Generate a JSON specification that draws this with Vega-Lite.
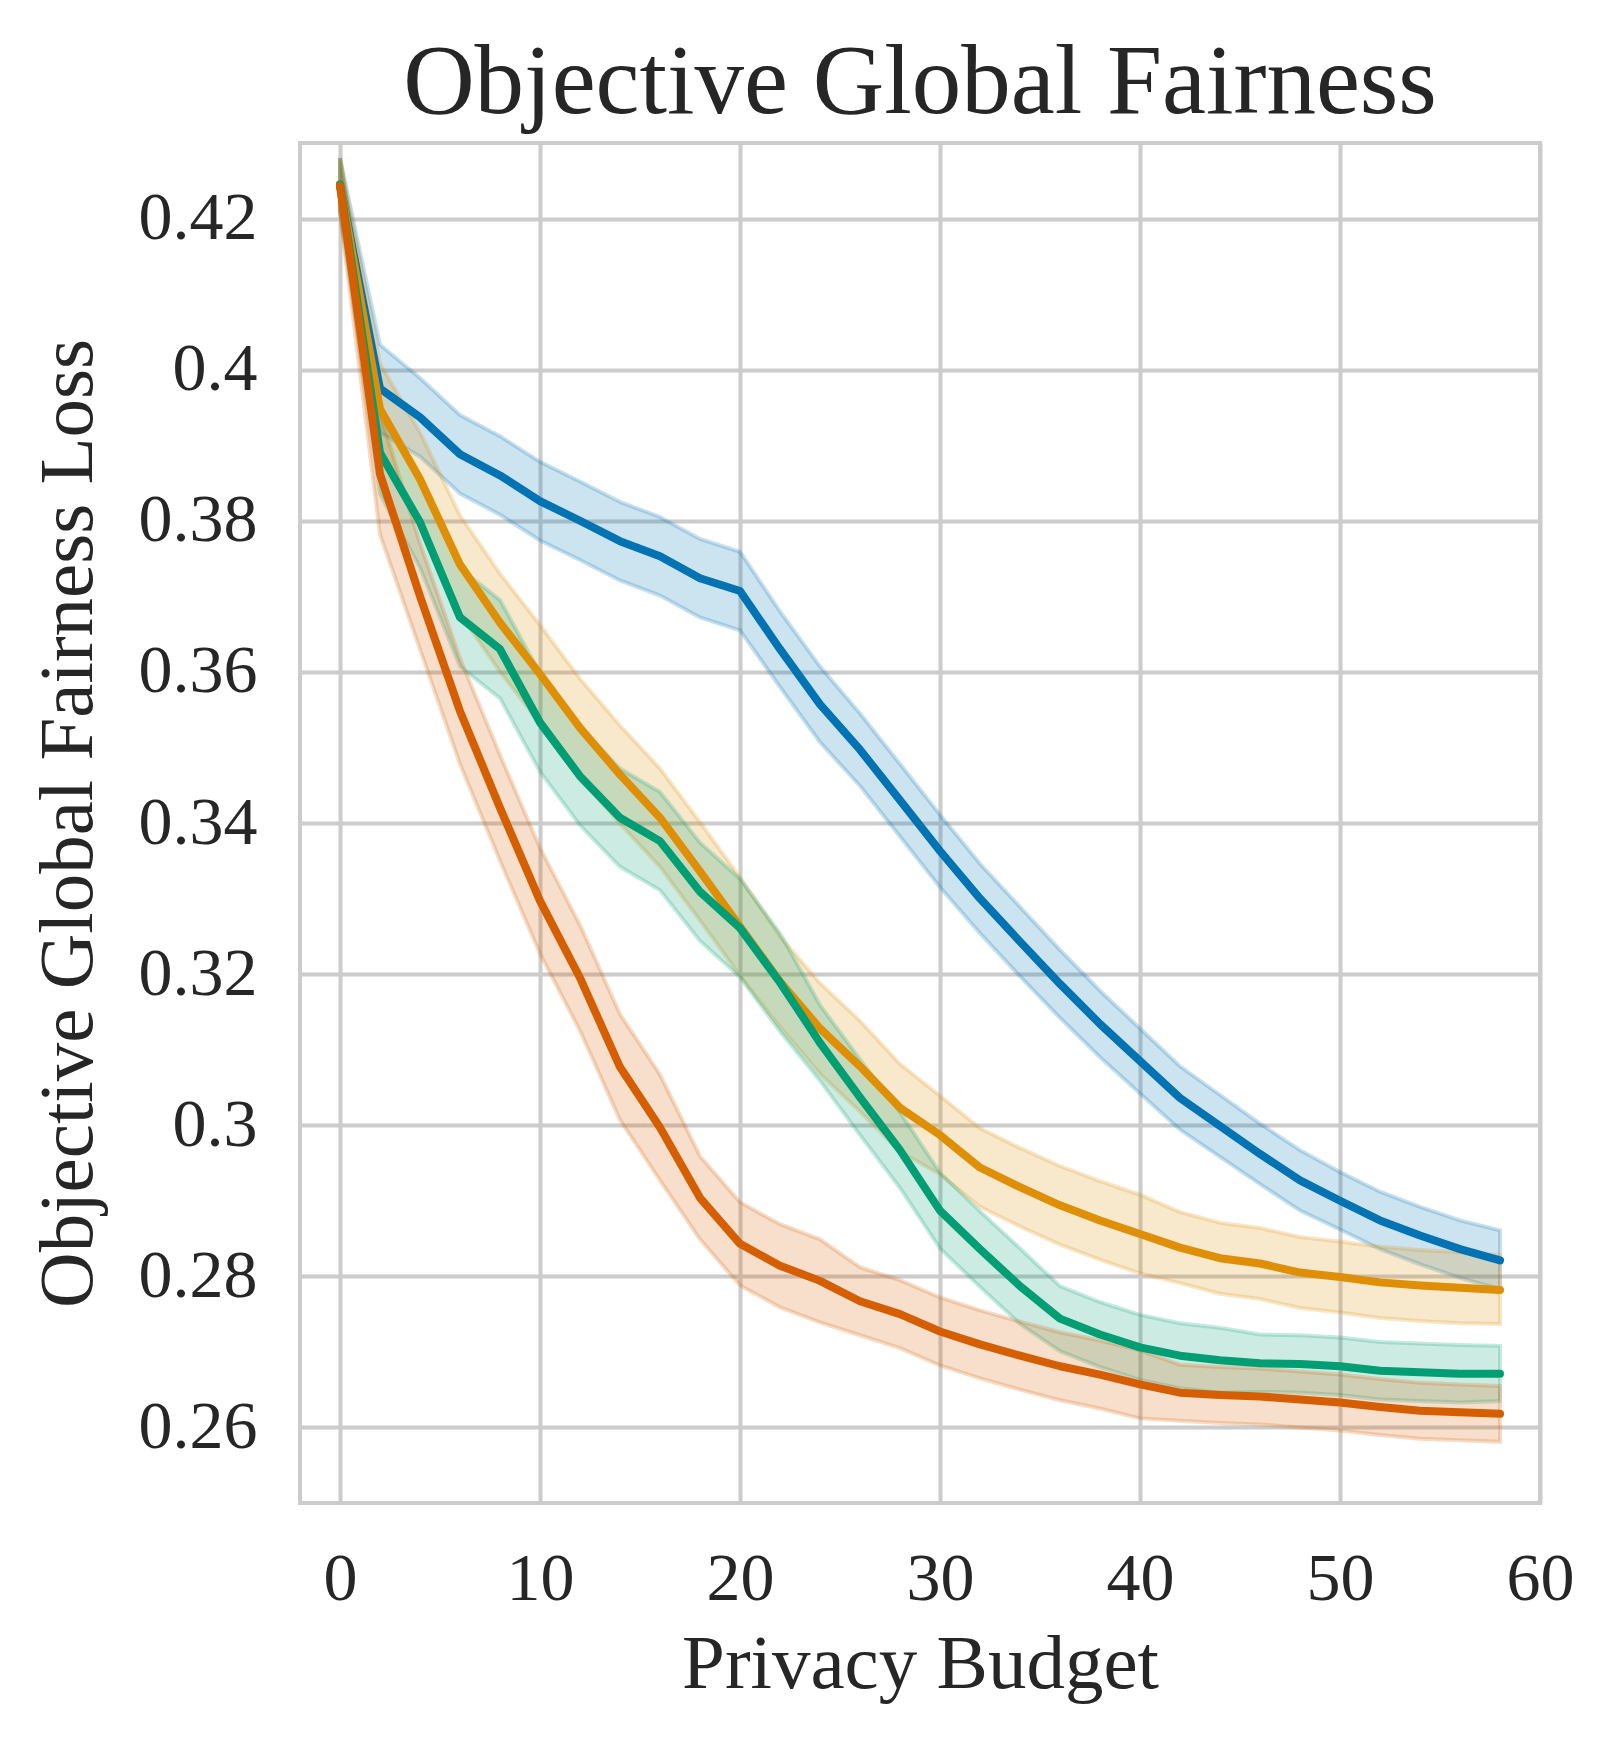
{
  "$schema": "https://vega.github.io/schema/vega-lite/v6.json",
  "autosize": "none",
  "padding": {"left": 300, "top": 143, "right": 76, "bottom": 246},
  "width": 1240,
  "height": 1360,
  "title": {"text": "Objective Global Fairness", "offset": 9},
  "data": {
    "values": [
      {"series": "A", "budget": 0, "loss": 0.4245, "lo": 0.4210, "hi": 0.4280},
      {"series": "A", "budget": 2, "loss": 0.3975, "lo": 0.3917, "hi": 0.4033},
      {"series": "A", "budget": 4, "loss": 0.3937, "lo": 0.3885, "hi": 0.3989},
      {"series": "A", "budget": 6, "loss": 0.3888, "lo": 0.3836, "hi": 0.3940},
      {"series": "A", "budget": 8, "loss": 0.3860, "lo": 0.3808, "hi": 0.3912},
      {"series": "A", "budget": 10, "loss": 0.3826, "lo": 0.3774, "hi": 0.3878},
      {"series": "A", "budget": 12, "loss": 0.3800, "lo": 0.3748, "hi": 0.3852},
      {"series": "A", "budget": 14, "loss": 0.3773, "lo": 0.3721, "hi": 0.3825},
      {"series": "A", "budget": 16, "loss": 0.3753, "lo": 0.3701, "hi": 0.3805},
      {"series": "A", "budget": 18, "loss": 0.3724, "lo": 0.3672, "hi": 0.3776},
      {"series": "A", "budget": 20, "loss": 0.3707, "lo": 0.3655, "hi": 0.3759},
      {"series": "A", "budget": 22, "loss": 0.3630, "lo": 0.3580, "hi": 0.3680},
      {"series": "A", "budget": 24, "loss": 0.3557, "lo": 0.3507, "hi": 0.3607},
      {"series": "A", "budget": 26, "loss": 0.3497, "lo": 0.3449, "hi": 0.3545},
      {"series": "A", "budget": 28, "loss": 0.3430, "lo": 0.3382, "hi": 0.3478},
      {"series": "A", "budget": 30, "loss": 0.3363, "lo": 0.3315, "hi": 0.3411},
      {"series": "A", "budget": 32, "loss": 0.3300, "lo": 0.3254, "hi": 0.3346},
      {"series": "A", "budget": 34, "loss": 0.3243, "lo": 0.3197, "hi": 0.3289},
      {"series": "A", "budget": 36, "loss": 0.3187, "lo": 0.3142, "hi": 0.3232},
      {"series": "A", "budget": 38, "loss": 0.3134, "lo": 0.3090, "hi": 0.3178},
      {"series": "A", "budget": 40, "loss": 0.3085, "lo": 0.3042, "hi": 0.3128},
      {"series": "A", "budget": 42, "loss": 0.3036, "lo": 0.2994, "hi": 0.3078},
      {"series": "A", "budget": 44, "loss": 0.2999, "lo": 0.2958, "hi": 0.3040},
      {"series": "A", "budget": 46, "loss": 0.2962, "lo": 0.2922, "hi": 0.3002},
      {"series": "A", "budget": 48, "loss": 0.2927, "lo": 0.2887, "hi": 0.2967},
      {"series": "A", "budget": 50, "loss": 0.2900, "lo": 0.2862, "hi": 0.2938},
      {"series": "A", "budget": 52, "loss": 0.2874, "lo": 0.2836, "hi": 0.2912},
      {"series": "A", "budget": 54, "loss": 0.2854, "lo": 0.2816, "hi": 0.2892},
      {"series": "A", "budget": 56, "loss": 0.2836, "lo": 0.2798, "hi": 0.2874},
      {"series": "A", "budget": 58, "loss": 0.2821, "lo": 0.2783, "hi": 0.2861},

      {"series": "B", "budget": 0, "loss": 0.4245, "lo": 0.4210, "hi": 0.4280},
      {"series": "B", "budget": 2, "loss": 0.3948, "lo": 0.3888, "hi": 0.4008},
      {"series": "B", "budget": 4, "loss": 0.3855, "lo": 0.3793, "hi": 0.3917},
      {"series": "B", "budget": 6, "loss": 0.3742, "lo": 0.3677, "hi": 0.3807},
      {"series": "B", "budget": 8, "loss": 0.3665, "lo": 0.3600, "hi": 0.3730},
      {"series": "B", "budget": 10, "loss": 0.3597, "lo": 0.3532, "hi": 0.3662},
      {"series": "B", "budget": 12, "loss": 0.3526, "lo": 0.3461, "hi": 0.3591},
      {"series": "B", "budget": 14, "loss": 0.3464, "lo": 0.3399, "hi": 0.3529},
      {"series": "B", "budget": 16, "loss": 0.3407, "lo": 0.3342, "hi": 0.3472},
      {"series": "B", "budget": 18, "loss": 0.3336, "lo": 0.3271, "hi": 0.3401},
      {"series": "B", "budget": 20, "loss": 0.3263, "lo": 0.3198, "hi": 0.3328},
      {"series": "B", "budget": 22, "loss": 0.3190, "lo": 0.3130, "hi": 0.3250},
      {"series": "B", "budget": 24, "loss": 0.3128, "lo": 0.3068, "hi": 0.3188},
      {"series": "B", "budget": 26, "loss": 0.3078, "lo": 0.3018, "hi": 0.3138},
      {"series": "B", "budget": 28, "loss": 0.3023, "lo": 0.2965, "hi": 0.3081},
      {"series": "B", "budget": 30, "loss": 0.2987, "lo": 0.2935, "hi": 0.3039},
      {"series": "B", "budget": 32, "loss": 0.2944, "lo": 0.2892, "hi": 0.2996},
      {"series": "B", "budget": 34, "loss": 0.2918, "lo": 0.2866, "hi": 0.2970},
      {"series": "B", "budget": 36, "loss": 0.2894, "lo": 0.2842, "hi": 0.2946},
      {"series": "B", "budget": 38, "loss": 0.2874, "lo": 0.2822, "hi": 0.2926},
      {"series": "B", "budget": 40, "loss": 0.2856, "lo": 0.2804, "hi": 0.2908},
      {"series": "B", "budget": 42, "loss": 0.2838, "lo": 0.2791, "hi": 0.2885},
      {"series": "B", "budget": 44, "loss": 0.2824, "lo": 0.2777, "hi": 0.2871},
      {"series": "B", "budget": 46, "loss": 0.2817, "lo": 0.2770, "hi": 0.2864},
      {"series": "B", "budget": 48, "loss": 0.2805, "lo": 0.2758, "hi": 0.2852},
      {"series": "B", "budget": 50, "loss": 0.2799, "lo": 0.2752, "hi": 0.2846},
      {"series": "B", "budget": 52, "loss": 0.2792, "lo": 0.2745, "hi": 0.2839},
      {"series": "B", "budget": 54, "loss": 0.2788, "lo": 0.2741, "hi": 0.2835},
      {"series": "B", "budget": 56, "loss": 0.2785, "lo": 0.2738, "hi": 0.2832},
      {"series": "B", "budget": 58, "loss": 0.2782, "lo": 0.2737, "hi": 0.2828},

      {"series": "C", "budget": 0, "loss": 0.4245, "lo": 0.4210, "hi": 0.4280},
      {"series": "C", "budget": 2, "loss": 0.3890, "lo": 0.3835, "hi": 0.3945},
      {"series": "C", "budget": 4, "loss": 0.3798, "lo": 0.3738, "hi": 0.3858},
      {"series": "C", "budget": 6, "loss": 0.3672, "lo": 0.3607, "hi": 0.3737},
      {"series": "C", "budget": 8, "loss": 0.3630, "lo": 0.3565, "hi": 0.3695},
      {"series": "C", "budget": 10, "loss": 0.3533, "lo": 0.3468, "hi": 0.3598},
      {"series": "C", "budget": 12, "loss": 0.3462, "lo": 0.3397, "hi": 0.3527},
      {"series": "C", "budget": 14, "loss": 0.3407, "lo": 0.3342, "hi": 0.3472},
      {"series": "C", "budget": 16, "loss": 0.3376, "lo": 0.3311, "hi": 0.3441},
      {"series": "C", "budget": 18, "loss": 0.3309, "lo": 0.3244, "hi": 0.3374},
      {"series": "C", "budget": 20, "loss": 0.3261, "lo": 0.3196, "hi": 0.3326},
      {"series": "C", "budget": 22, "loss": 0.3189, "lo": 0.3124, "hi": 0.3254},
      {"series": "C", "budget": 24, "loss": 0.3109, "lo": 0.3059, "hi": 0.3159},
      {"series": "C", "budget": 26, "loss": 0.3037, "lo": 0.2987, "hi": 0.3087},
      {"series": "C", "budget": 28, "loss": 0.2967, "lo": 0.2917, "hi": 0.3017},
      {"series": "C", "budget": 30, "loss": 0.2887, "lo": 0.2837, "hi": 0.2937},
      {"series": "C", "budget": 32, "loss": 0.2836, "lo": 0.2786, "hi": 0.2886},
      {"series": "C", "budget": 34, "loss": 0.2787, "lo": 0.2737, "hi": 0.2837},
      {"series": "C", "budget": 36, "loss": 0.2744, "lo": 0.2701, "hi": 0.2787},
      {"series": "C", "budget": 38, "loss": 0.2723, "lo": 0.2680, "hi": 0.2766},
      {"series": "C", "budget": 40, "loss": 0.2706, "lo": 0.2663, "hi": 0.2749},
      {"series": "C", "budget": 42, "loss": 0.2695, "lo": 0.2652, "hi": 0.2738},
      {"series": "C", "budget": 44, "loss": 0.2689, "lo": 0.2646, "hi": 0.2732},
      {"series": "C", "budget": 46, "loss": 0.2685, "lo": 0.2647, "hi": 0.2723},
      {"series": "C", "budget": 48, "loss": 0.2684, "lo": 0.2646, "hi": 0.2722},
      {"series": "C", "budget": 50, "loss": 0.2681, "lo": 0.2643, "hi": 0.2719},
      {"series": "C", "budget": 52, "loss": 0.2675, "lo": 0.2637, "hi": 0.2713},
      {"series": "C", "budget": 54, "loss": 0.2673, "lo": 0.2635, "hi": 0.2711},
      {"series": "C", "budget": 56, "loss": 0.2671, "lo": 0.2633, "hi": 0.2709},
      {"series": "C", "budget": 58, "loss": 0.2671, "lo": 0.2635, "hi": 0.2708},

      {"series": "D", "budget": 0, "loss": 0.4243, "lo": 0.4208, "hi": 0.4278},
      {"series": "D", "budget": 2, "loss": 0.3862, "lo": 0.3782, "hi": 0.3942},
      {"series": "D", "budget": 4, "loss": 0.3700, "lo": 0.3630, "hi": 0.3770},
      {"series": "D", "budget": 6, "loss": 0.3548, "lo": 0.3478, "hi": 0.3618},
      {"series": "D", "budget": 8, "loss": 0.3420, "lo": 0.3350, "hi": 0.3490},
      {"series": "D", "budget": 10, "loss": 0.3297, "lo": 0.3227, "hi": 0.3367},
      {"series": "D", "budget": 12, "loss": 0.3195, "lo": 0.3125, "hi": 0.3265},
      {"series": "D", "budget": 14, "loss": 0.3077, "lo": 0.3007, "hi": 0.3147},
      {"series": "D", "budget": 16, "loss": 0.2997, "lo": 0.2927, "hi": 0.3067},
      {"series": "D", "budget": 18, "loss": 0.2904, "lo": 0.2849, "hi": 0.2959},
      {"series": "D", "budget": 20, "loss": 0.2843, "lo": 0.2788, "hi": 0.2898},
      {"series": "D", "budget": 22, "loss": 0.2814, "lo": 0.2759, "hi": 0.2869},
      {"series": "D", "budget": 24, "loss": 0.2794, "lo": 0.2739, "hi": 0.2849},
      {"series": "D", "budget": 26, "loss": 0.2767, "lo": 0.2722, "hi": 0.2812},
      {"series": "D", "budget": 28, "loss": 0.2750, "lo": 0.2705, "hi": 0.2795},
      {"series": "D", "budget": 30, "loss": 0.2727, "lo": 0.2682, "hi": 0.2772},
      {"series": "D", "budget": 32, "loss": 0.2710, "lo": 0.2665, "hi": 0.2755},
      {"series": "D", "budget": 34, "loss": 0.2695, "lo": 0.2650, "hi": 0.2740},
      {"series": "D", "budget": 36, "loss": 0.2681, "lo": 0.2636, "hi": 0.2726},
      {"series": "D", "budget": 38, "loss": 0.2670, "lo": 0.2625, "hi": 0.2715},
      {"series": "D", "budget": 40, "loss": 0.2657, "lo": 0.2612, "hi": 0.2702},
      {"series": "D", "budget": 42, "loss": 0.2646, "lo": 0.2609, "hi": 0.2683},
      {"series": "D", "budget": 44, "loss": 0.2643, "lo": 0.2606, "hi": 0.2680},
      {"series": "D", "budget": 46, "loss": 0.2641, "lo": 0.2604, "hi": 0.2678},
      {"series": "D", "budget": 48, "loss": 0.2637, "lo": 0.2600, "hi": 0.2674},
      {"series": "D", "budget": 50, "loss": 0.2633, "lo": 0.2596, "hi": 0.2670},
      {"series": "D", "budget": 52, "loss": 0.2627, "lo": 0.2590, "hi": 0.2664},
      {"series": "D", "budget": 54, "loss": 0.2622, "lo": 0.2585, "hi": 0.2659},
      {"series": "D", "budget": 56, "loss": 0.2620, "lo": 0.2583, "hi": 0.2657},
      {"series": "D", "budget": 58, "loss": 0.2618, "lo": 0.2581, "hi": 0.2655}
    ]
  },
  "layer": [
    {
      "mark": {"type": "area", "fillOpacity": 0.2, "strokeOpacity": 0.22, "strokeWidth": 4},
      "encoding": {
        "x": {"field": "budget", "type": "quantitative"},
        "y": {"field": "lo", "type": "quantitative"},
        "y2": {"field": "hi"},
        "color": {
          "field": "series",
          "type": "nominal",
          "legend": null,
          "scale": {"domain": ["A", "B", "C", "D"], "range": ["#0173b2", "#de8f05", "#029e73", "#d55e00"]}
        },
        "stroke": {
          "field": "series",
          "type": "nominal",
          "legend": null,
          "scale": {"domain": ["A", "B", "C", "D"], "range": ["#0173b2", "#de8f05", "#029e73", "#d55e00"]}
        }
      }
    },
    {
      "mark": {"type": "line", "strokeWidth": 8, "strokeCap": "round", "strokeJoin": "round"},
      "encoding": {
        "x": {
          "field": "budget",
          "type": "quantitative",
          "title": "Privacy Budget",
          "scale": {"domain": [-2, 60], "nice": false, "zero": false},
          "axis": {
            "values": [0, 10, 20, 30, 40, 50, 60],
            "labelFlush": false,
            "labelOverlap": false,
            "labelPadding": 42,
            "titlePadding": 13
          }
        },
        "y": {
          "field": "loss",
          "type": "quantitative",
          "title": "Objective Global Fairness Loss",
          "scale": {"domain": [0.25, 0.43], "nice": false, "zero": false},
          "axis": {
            "values": [0.26, 0.28, 0.3, 0.32, 0.34, 0.36, 0.38, 0.4, 0.42],
            "format": "~g",
            "labelPadding": 43,
            "titlePadding": 31
          }
        },
        "color": {"field": "series", "type": "nominal", "legend": null}
      }
    }
  ],
  "config": {
    "font": "Liberation Serif",
    "view": {"stroke": "#cccccc", "strokeWidth": 4},
    "axis": {
      "domain": false,
      "ticks": false,
      "grid": true,
      "gridColor": "#cccccc",
      "gridWidth": 4,
      "labelFontSize": 68,
      "labelColor": "#262626",
      "titleFontSize": 77,
      "titleFontWeight": "normal",
      "titleColor": "#262626"
    },
    "title": {"fontSize": 99, "fontWeight": "normal", "color": "#262626", "anchor": "middle"}
  }
}
